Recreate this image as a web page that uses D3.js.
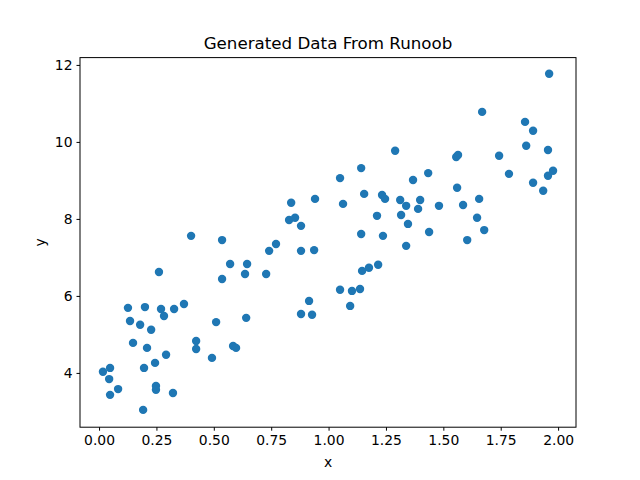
<!DOCTYPE html>
<html><head><meta charset="utf-8">
<script src="https://cdn.jsdelivr.net/npm/d3@7"></script>
<style>body{margin:0;background:#fff}text{font-family:"DejaVu Sans",sans-serif}</style>
</head><body><script>
var xs = [.017,.048,.044,.048,.083,.192,.196,.248,.248,.322,.244,.292,.148,.209,.227,.179,.135,.126,.200,.270,.283,.327,.370,.261,.401,.423,.423,.492,.510,.536,.536,.571,.584,.597,.636,.645,.641,.728,.741,.771,.828,.854,.880,.880,.937,.915,.880,.928,1.050,1.102,1.137,1.094,1.146,1.176,1.216,.941,.837,1.063,1.050,1.142,1.155,1.233,1.246,1.312,1.338,1.399,1.390,1.211,1.316,1.346,1.438,1.142,1.237,1.338,1.290,1.368,1.434,1.481,1.560,1.586,1.656,1.647,1.604,1.678,1.556,1.564,1.743,1.786,1.669,1.856,1.891,1.861,1.956,1.961,1.978,1.956,1.891,1.935];
var ys = [4.03,4.13,3.84,3.43,3.58,3.04,4.13,3.66,3.56,3.48,4.26,4.47,4.78,4.65,5.12,5.25,5.35,5.69,5.71,5.66,5.48,5.66,5.79,6.62,7.56,4.83,4.62,4.39,5.32,7.45,6.44,6.83,4.70,4.65,6.57,6.83,5.43,6.57,7.17,7.35,7.97,8.03,7.82,7.17,7.19,5.87,5.53,5.51,6.16,6.13,6.18,5.74,6.65,6.73,6.81,8.52,8.42,8.39,9.06,9.32,8.65,8.62,8.52,8.49,8.34,8.49,8.26,8.08,8.10,7.87,7.66,7.61,7.56,7.30,9.77,9.01,9.19,8.34,8.81,8.36,8.52,8.03,7.45,7.71,9.61,9.66,9.64,9.17,10.78,10.52,10.29,9.90,9.79,11.77,9.25,9.12,8.94,8.73];
var xTicks = [0, 0.25, 0.5, 0.75, 1, 1.25, 1.5, 1.75, 2];
var yTicks = [4, 6, 8, 10, 12];

var width = 640, height = 480;
var margin = {top: 57.6, right: 64, bottom: 52.8, left: 80};

var svg = d3.select("body").append("svg")
    .attr("width", width)
    .attr("height", height);

var x = d3.scaleLinear().domain([-0.083, 2.078]).range([margin.left, width - margin.right]);
var y = d3.scaleLinear().domain([2.59, 12.19]).range([height - margin.bottom, margin.top]);

svg.append("g")
    .attr("transform", "translate(0," + (height - margin.bottom) + ")")
    .call(d3.axisBottom(x).tickValues(xTicks).tickFormat(d3.format(".2f")).tickSize(3.5).tickPadding(4))
    .call(function(g) { g.select(".domain").remove(); g.selectAll("text").attr("font-size", 13.9).attr("fill", "#000"); });

svg.append("g")
    .attr("transform", "translate(" + margin.left + ",0)")
    .call(d3.axisLeft(y).tickValues(yTicks).tickSize(3.5).tickPadding(4))
    .call(function(g) { g.select(".domain").remove(); g.selectAll("text").attr("font-size", 13.9).attr("fill", "#000"); });

svg.append("g").selectAll("circle")
    .data(xs)
    .enter().append("circle")
    .attr("cx", function(d) { return x(d); })
    .attr("cy", function(d, i) { return y(ys[i]); })
    .attr("r", 4.2)
    .attr("fill", "#1f77b4");

svg.append("rect")
    .attr("x", margin.left).attr("y", margin.top)
    .attr("width", width - margin.left - margin.right)
    .attr("height", height - margin.top - margin.bottom)
    .attr("fill", "none").attr("stroke", "#000").attr("stroke-width", 1);

svg.append("text").attr("x", (margin.left + width - margin.right) / 2).attr("y", 49)
    .attr("text-anchor", "middle").attr("font-size", 16.7).text("Generated Data From Runoob");
svg.append("text").attr("x", (margin.left + width - margin.right) / 2).attr("y", 467)
    .attr("text-anchor", "middle").attr("font-size", 13.9).text("x");
svg.append("text").attr("transform", "translate(45," + ((margin.top + height - margin.bottom) / 2) + ") rotate(-90)")
    .attr("text-anchor", "middle").attr("font-size", 13.9).text("y");
</script></body></html>
